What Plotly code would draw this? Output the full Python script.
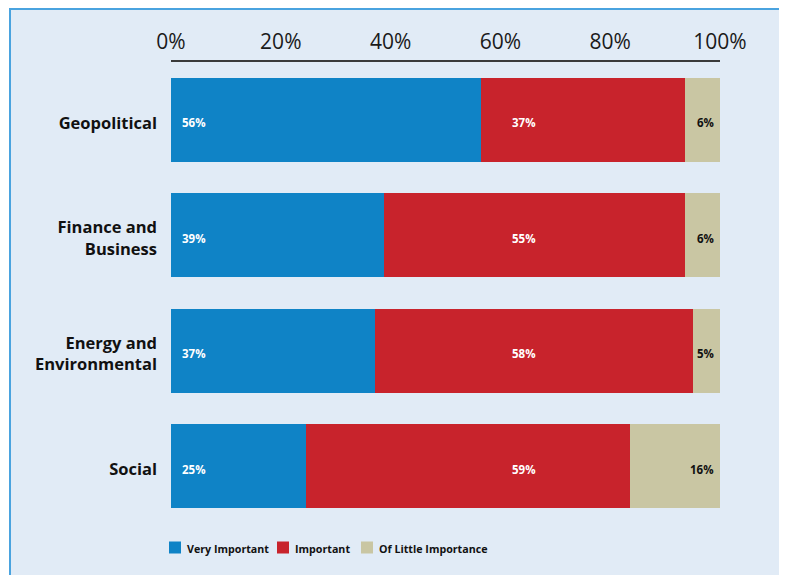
import plotly.graph_objects as go

categories = ["Geopolitical", "Finance and<br>Business", "Energy and<br>Environmental", "Social"]
very_important = [56.5, 38.8, 37.2, 24.6]
important = [37.1, 54.8, 57.9, 59.0]
little_importance = [6.4, 6.4, 4.9, 16.4]
very_labels = ["56%", "39%", "37%", "25%"]
important_labels = ["37%", "55%", "58%", "59%"]
little_labels = ["6%", "6%", "5%", "16%"]
series_names = ["Very Important", "Important", "Of Little Importance"]
tick_vals = [0, 20, 40, 60, 80, 100]
tick_text = ["0%", "20%", "40%", "60%", "80%", "100%"]

BLUE = "#0f83c6"
RED = "#c8232c"
TAN = "#c9c6a3"
PANEL = "#e1ebf6"
FONT = "Open Sans, Inter, sans-serif"
colors = [BLUE, RED, TAN]

# page offset (default body margin of the html page)
OFF = 8
W, H = 787 - OFF, 575 - OFF
L, T = 171 - OFF, 62 - OFF
pw, ph = 549, 462
R, B = W - L - pw, H - T - ph

def px_x(px):  # page pixel -> paper x
    return (px - OFF - L) / pw

def px_y(py):  # page pixel -> paper y
    return (H - B - (py - OFF)) / ph

fig = go.Figure()
for name, vals, col in zip(series_names, [very_important, important, little_importance], colors):
    fig.add_trace(go.Bar(
        y=categories, x=vals, name=name, orientation="h",
        marker=dict(color=col, line=dict(width=0)),
        hoverinfo="skip", showlegend=False,
    ))

lab_font = dict(size=11.5, family=FONT, weight="bold")
ann = []
for i, c in enumerate(categories):
    ann.append(dict(x=0, y=c, xref="x", yref="y", text=very_labels[i], showarrow=False,
                    xanchor="left", xshift=9, yshift=-3, font=dict(color="white", **lab_font)))
    ann.append(dict(x=64.3, y=c, xref="x", yref="y", text=important_labels[i], showarrow=False,
                    xanchor="center", yshift=-3, font=dict(color="white", **lab_font)))
    ann.append(dict(x=100, y=c, xref="x", yref="y", text=little_labels[i], showarrow=False,
                    xanchor="right", xshift=-4, yshift=-3, font=dict(color="#111111", **lab_font)))

shapes = [dict(type="rect", xref="paper", yref="paper",
               x0=px_x(10), x1=px_x(820), y0=px_y(600), y1=px_y(9),
               fillcolor=PANEL, line=dict(color="#4aa3df", width=2), layer="below")]

# legend (drawn as small swatches + text)
legend_x = [169, 277, 361]
for name, col, lx in zip(series_names, colors, legend_x):
    shapes.append(dict(type="rect", xref="paper", yref="paper",
                       x0=px_x(lx), x1=px_x(lx + 12), y0=px_y(553.5), y1=px_y(541.5),
                       fillcolor=col, line=dict(width=0)))
    ann.append(dict(x=px_x(lx + 16), y=px_y(548.5), xref="paper", yref="paper", text=name,
                    showarrow=False, xanchor="left", yanchor="middle",
                    font=dict(size=10.7, family=FONT, weight="bold", color="#111111")))

fig.update_layout(
    width=W, height=H,
    barmode="stack", bargap=0.273,
    paper_bgcolor="white", plot_bgcolor="rgba(0,0,0,0)",
    margin=dict(l=L, r=R, t=T, b=B, pad=0),
    font=dict(family=FONT, color="#111111"),
    shapes=shapes,
    annotations=ann,
    showlegend=False,
    xaxis=dict(side="top", range=[0, 100], tickvals=tick_vals, ticktext=tick_text,
               showgrid=False, zeroline=False, showline=True, linecolor="#3a3a3a", linewidth=2,
               ticks="", tickfont=dict(size=21, family=FONT, color="#1a1a1a"), ticklabelstandoff=3,
               fixedrange=True),
    yaxis=dict(autorange="reversed", showgrid=False, zeroline=False, showline=False, ticks="",
               tickfont=dict(size=16.5, family=FONT, color="#111111", weight="bold"),
               ticklabelstandoff=13, ticklabelshift=-3, fixedrange=True),
)

fig.write_html("out.html")
